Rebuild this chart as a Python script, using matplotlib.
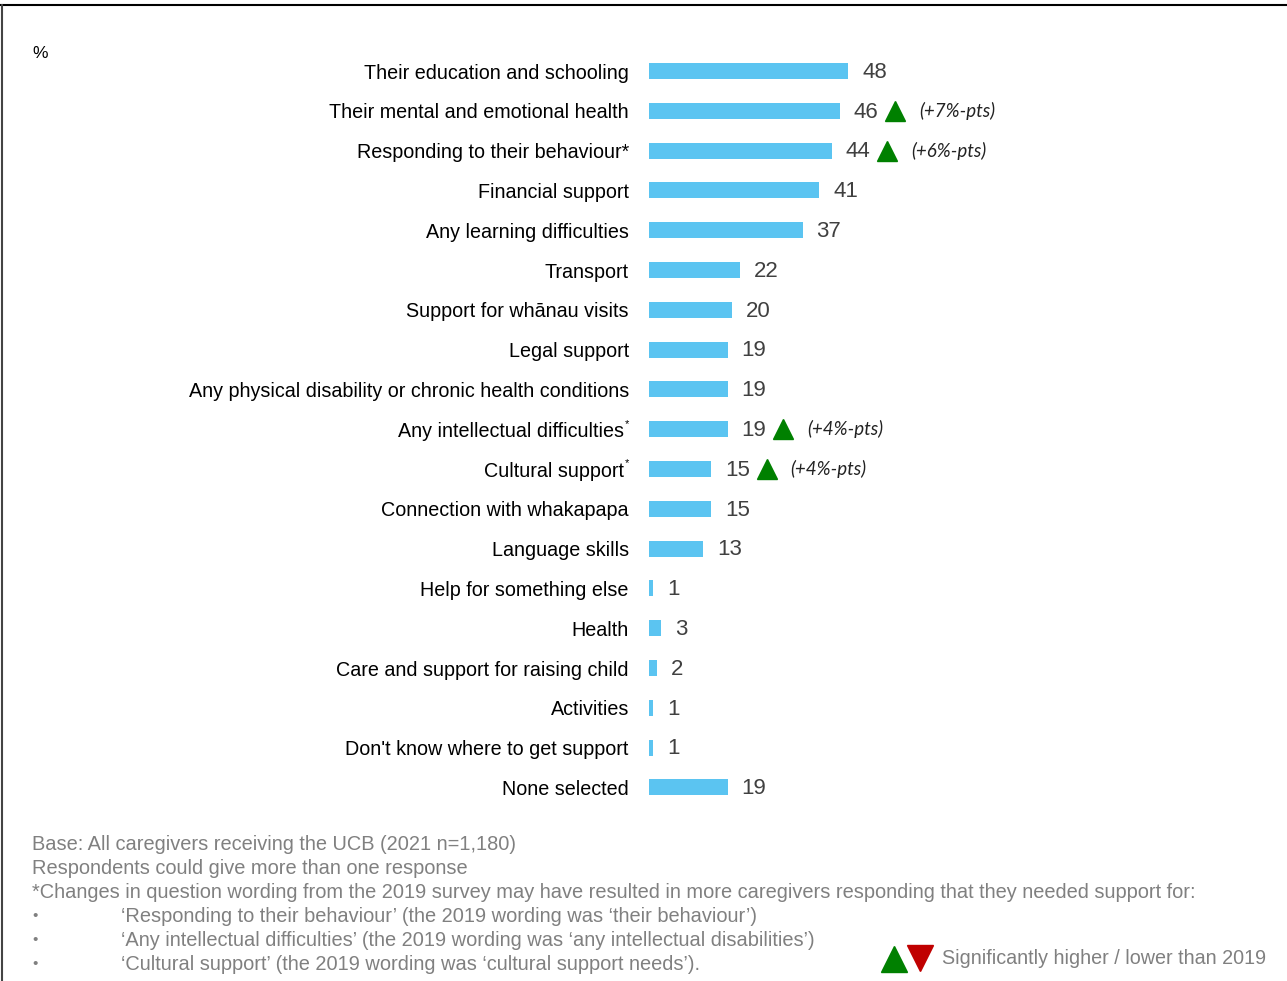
import matplotlib.pyplot as plt
from matplotlib.lines import Line2D
from matplotlib.transforms import offset_copy

# Support needed for the child (percent of caregivers)
categories = [
    "Their education and schooling",
    "Their mental and emotional health",
    "Responding to their behaviour*",
    "Financial support",
    "Any learning difficulties",
    "Transport",
    "Support for whānau visits",
    "Legal support",
    "Any physical disability or chronic health conditions",
    "Any intellectual difficulties",
    "Cultural support",
    "Connection with whakapapa",
    "Language skills",
    "Help for something else",
    "Health",
    "Care and support for raising child",
    "Activities",
    "Don't know where to get support",
    "None selected",
]
values = [48, 46, 44, 41, 37, 22, 20, 19, 19, 19, 15, 15, 13, 1, 3, 2, 1, 1, 19]

# labels carrying a superscript asterisk (wording changed since 2019)
starred_rows = [9, 10]

# rows significantly higher than 2019, with the change in points
higher_rows = [1, 2, 9, 10]
higher_text = ["(+7%-pts)", "(+6%-pts)", "(+4%-pts)", "(+4%-pts)"]

footnotes = [
    "Base: All caregivers receiving the UCB (2021 n=1,180)",
    "Respondents could give more than one response",
    "*Changes in question wording from the 2019 survey may have resulted in more caregivers responding that they needed support for:",
]
bullets = [
    "\u2018Responding to their behaviour\u2019 (the 2019 wording was \u2018their behaviour\u2019)",
    "\u2018Any intellectual difficulties\u2019 (the 2019 wording was \u2018any intellectual disabilities\u2019)",
    "\u2018Cultural support\u2019 (the 2019 wording was \u2018cultural support needs\u2019).",
]

BAR = "#5BC4F1"
GREEN = "#008000"
RED = "#C00000"
GREY = "#808080"

plt.rcParams["font.family"] = ["Liberation Sans", "DejaVu Sans"]

W, H = 1287, 981
fig = plt.figure(figsize=(W / 100, H / 100), dpi=100)

# axes: x from bar origin to right edge, 4.15 px per point
px_per = 4.15
left, top_px, row = 649, 71 - 19.9, 39.8
n = len(categories)
ax = fig.add_axes([left / W, 1 - (top_px + n * row) / H, (W - left) / W, n * row / H])
ax.set_xlim(0, (W - left) / px_per)
ax.set_ylim(n - 0.5, -0.5)

ypos = list(range(n))
ax.barh(ypos, values, height=0.4, color=BAR, edgecolor="none")

# category labels, right aligned 20px left of the bars
for y, name in zip(ypos, categories):
    shift = -18 if y in starred_rows else -14.5
    ax.annotate(name, (0, y), xytext=(shift, -1.5), textcoords="offset points",
                ha="right", va="center", fontsize=14.25, color="black")
    if y in starred_rows:
        ax.annotate("*", (0, y), xytext=(-17.5, 4), textcoords="offset points",
                    ha="left", va="center", fontsize=8, color="black")

# value labels
for y, v in zip(ypos, values):
    ax.annotate(str(v), (v, y), xytext=(10, -1), textcoords="offset points",
                ha="left", va="center", fontsize=16, color="#404040")

# green arrows and point changes
tri_trans = offset_copy(ax.transData, fig=fig, x=40, y=0, units="points")
for r, t in zip(higher_rows, higher_text):
    v = values[r]
    ax.plot([v], [r], marker="^", markersize=14, color=GREEN,
            linestyle="none", transform=tri_trans, clip_on=False)
    ax.annotate(t, (v, r), xytext=(57, 0), textcoords="offset points",
                ha="left", va="center", fontsize=13.5, style="italic",
                family=["Lato", "DejaVu Sans"], color="#222222")

ax.set_xticks([])
ax.set_yticks([])
for s in ax.spines.values():
    s.set_visible(False)

fig.text(32 / W, 1 - 53 / H, "%", fontsize=12.5, va="center")

# footnotes
for y, t in zip([845, 869, 892], footnotes):
    fig.text(32 / W, 1 - y / H, t, fontsize=14.4, color=GREY, va="center")
for y, t in zip([916, 940, 964], bullets):
    fig.text(32 / W, 1 - y / H, "\u2022", fontsize=11, color=GREY, va="center")
    fig.text(121 / W, 1 - y / H, t, fontsize=14.4, color=GREY, va="center")

# legend for significance arrows
fig.add_artist(Line2D([894 / W], [1 - 959 / H], marker="^", markersize=19,
                      color=GREEN, linestyle="none"))
fig.add_artist(Line2D([920 / W], [1 - 958 / H], marker="v", markersize=19,
                      color=RED, linestyle="none"))
fig.text(942 / W, 1 - 958 / H, "Significantly higher / lower than 2019",
         fontsize=14.25, color=GREY, va="center")

# outer frame (top and left)
fig.add_artist(Line2D([0, 1], [1 - 5 / H, 1 - 5 / H], color="black", lw=1.5))
fig.add_artist(Line2D([2 / W, 2 / W], [0, 1 - 5 / H], color="#444444", lw=1.5))

fig.savefig("out.png", dpi=100)
